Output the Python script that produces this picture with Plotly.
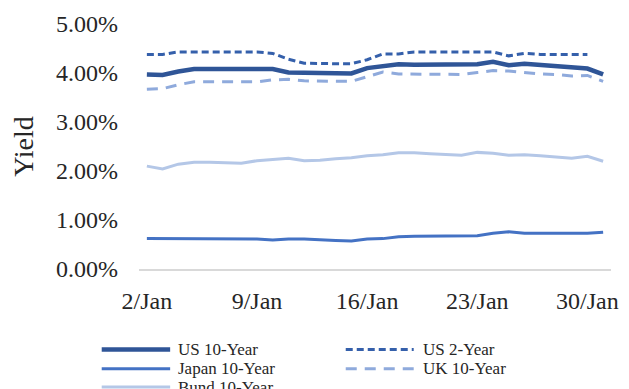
import plotly.graph_objects as go

# Daily yields (%) for January
dates = [f"{d}/Jan" for d in range(2, 32)]
tick_dates = ["2/Jan", "9/Jan", "16/Jan", "23/Jan", "30/Jan"]
y_ticks = [0, 1, 2, 3, 4, 5]
y_tick_text = ["0.00%", "1.00%", "2.00%", "3.00%", "4.00%", "5.00%"]

us10 = [3.97, 3.96, 4.03, 4.08, 4.08, 4.08, 4.08, 4.06, 4.08, 4.01,
        4.00, 3.99, 3.99, 3.99, 4.10, 4.15, 4.18, 4.17, 4.17, 4.17,
        4.16, 4.18, 4.23, 4.16, 4.19, 4.17, 4.15, 4.13, 4.09, 3.97]
us2 = [4.38, 4.38, 4.43, 4.43, 4.43, 4.43, 4.43, 4.43, 4.40, 4.28,
       4.20, 4.19, 4.19, 4.19, 4.27, 4.39, 4.39, 4.43, 4.43, 4.43,
       4.43, 4.42, 4.43, 4.35, 4.40, 4.38, 4.38, 4.38, 4.38, None]
japan10 = [0.62, 0.62, 0.62, 0.61, 0.61, 0.61, 0.61, 0.61, 0.59, 0.61,
           0.61, 0.59, 0.58, 0.57, 0.61, 0.62, 0.66, 0.67, 0.67, 0.67,
           0.67, 0.68, 0.73, 0.76, 0.73, 0.73, 0.73, 0.73, 0.73, 0.75]
uk10 = [3.67, 3.68, 3.76, 3.82, 3.82, 3.82, 3.82, 3.82, 3.86, 3.87,
        3.84, 3.83, 3.83, 3.83, 3.93, 4.02, 3.98, 3.98, 3.98, 3.98,
        3.97, 4.01, 4.05, 4.04, 4.01, 3.98, 3.97, 3.94, 3.95, 3.83]
bund10 = [2.10, 2.04, 2.14, 2.18, 2.18, 2.17, 2.16, 2.21, 2.24, 2.26,
          2.21, 2.22, 2.25, 2.27, 2.31, 2.33, 2.37, 2.37, 2.35, 2.34,
          2.32, 2.38, 2.36, 2.32, 2.33, 2.31, 2.29, 2.26, 2.30, 2.20]

series = [
    ("US 10-Year", us10, "#2F5597", 4.5, "solid"),
    ("US 2-Year", us2, "#3560AB", 3, "7px,4px"),
    ("Japan 10-Year", japan10, "#4472C4", 3, "solid"),
    ("UK 10-Year", uk10, "#8FAADC", 3, "11px,8px"),
    ("Bund 10-Year", bund10, "#B4C7E7", 3, "solid"),
]

FONT = "Liberation Serif, Times New Roman, serif"
TEXT = "#262626"

fig = go.Figure()
for name, vals, color, width, dash in series:
    fig.add_trace(go.Scatter(
        x=dates, y=vals, name=name, mode="lines",
        line=dict(color=color, width=width, dash=dash),
        connectgaps=False, showlegend=False,
    ))

# Legend drawn below the plot: two columns, long line keys
key_cols = [(-0.079, 0.066, 0.079), (0.438, 0.582, 0.597)]
key_rows = [-0.329, -0.407, -0.482]
shapes, annos = [], []
for i, (name, vals, color, width, dash) in enumerate(series):
    x0, x1, xt = key_cols[i % 2]
    yk = key_rows[i // 2]
    shapes.append(dict(type="line", xref="paper", yref="paper",
                       x0=x0, x1=x1, y0=yk, y1=yk,
                       line=dict(color=color, width=width, dash=dash)))
    annos.append(dict(xref="paper", yref="paper", x=xt, y=yk,
                      xanchor="left", yanchor="middle", showarrow=False,
                      text=name, font=dict(family=FONT, size=17, color=TEXT)))

fig.update_layout(
    width=629, height=389,
    margin=dict(l=139, r=11, t=24, b=120),
    paper_bgcolor="white", plot_bgcolor="white",
    font=dict(family=FONT, color=TEXT),
    shapes=shapes, annotations=annos,
    xaxis=dict(
        type="category", range=[-0.5, 29.5],
        tickmode="array", tickvals=tick_dates, ticktext=tick_dates,
        tickfont=dict(family=FONT, size=24, color=TEXT),
        showgrid=False, zeroline=False,
        showline=True, linecolor="#D9D9D9", linewidth=2,
        ticks="", ticklabelstandoff=9,
    ),
    yaxis=dict(
        range=[0, 5], tickmode="array", tickvals=y_ticks, ticktext=y_tick_text,
        tickfont=dict(family=FONT, size=24, color=TEXT),
        showgrid=False, zeroline=False, showline=False,
        ticks="", ticklabelstandoff=20,
        title=dict(text="Yield", font=dict(family=FONT, size=28, color=TEXT),
                   standoff=14),
    ),
)

fig.write_html("out.html")
